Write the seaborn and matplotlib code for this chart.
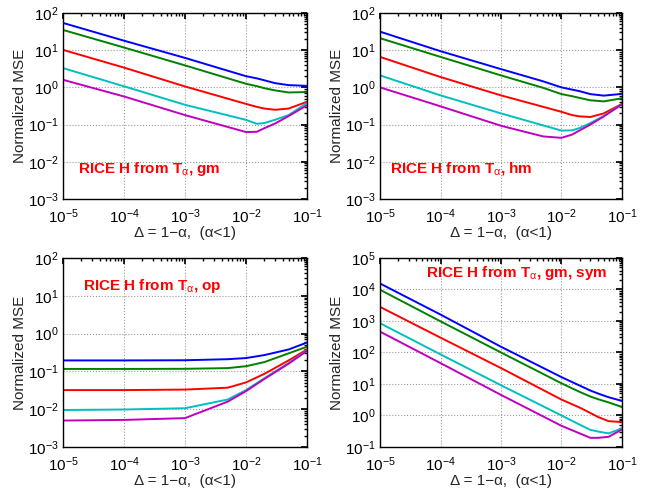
import numpy as np
import pandas as pd
import matplotlib
matplotlib.use("Agg")
import matplotlib.pyplot as plt
import seaborn as sns

# =====================================
# DATA
# =====================================

x_gm = [1e-5, 1e-4, 1e-3, 1e-2, 1.5e-2, 2e-2, 3e-2, 5e-2, 1e-1]
gm_blue = [54, 18, 6.2, 2.0, 1.75, 1.55, 1.3, 1.15, 1.1]
gm_green = [35, 11.8, 3.9, 1.25, 1.08, 0.95, 0.83, 0.73, 0.75]
gm_red = [10.2, 3.4, 1.06, 0.36, 0.30, 0.27, 0.25, 0.27, 0.41]
gm_cyan = [3.3, 1.07, 0.34, 0.134, 0.105, 0.11, 0.135, 0.18, 0.38]
gm_magenta = [1.6, 0.57, 0.18, 0.063, 0.064, 0.08, 0.107, 0.17, 0.33]

x_hm = [1e-5, 1e-4, 1e-3, 5e-3, 1e-2, 1.5e-2, 2e-2, 3e-2, 5e-2, 1e-1]
hm_blue = [31.5, 9.4, 3.1, 1.45, 1.0, 0.87, 0.79, 0.66, 0.6, 0.67]
hm_green = [21, 6.6, 2.1, 0.97, 0.66, 0.58, 0.52, 0.45, 0.42, 0.51]
hm_red = [6.6, 1.9, 0.61, 0.30, 0.22, 0.18, 0.166, 0.16, 0.2, 0.36]
hm_cyan = [2.1, 0.61, 0.2, 0.095, 0.069, 0.07, 0.081, 0.11, 0.17, 0.36]
hm_magenta = [1.0, 0.31, 0.093, 0.048, 0.044, 0.054, 0.07, 0.1, 0.166, 0.35]

x_op = [1e-5, 1e-4, 1e-3, 5e-3, 1e-2, 2e-2, 5e-2, 1e-1]
op_blue = [0.195, 0.195, 0.197, 0.21, 0.225, 0.27, 0.38, 0.58]
op_green = [0.116, 0.116, 0.117, 0.122, 0.137, 0.176, 0.3, 0.45]
op_red = [0.032, 0.032, 0.033, 0.037, 0.051, 0.086, 0.195, 0.38]
op_cyan = [0.0095, 0.0098, 0.0106, 0.018, 0.032, 0.066, 0.166, 0.36]
op_magenta = [0.005, 0.0052, 0.0058, 0.0158, 0.030, 0.063, 0.16, 0.35]

x_sym = [1e-5, 1e-4, 1e-3, 1e-2, 2e-2, 3e-2, 4e-2, 6e-2, 1e-1]
sym_blue = [15500, 1600, 152, 16.5, 8.9, 6.2, 5.0, 3.8, 2.9]
sym_green = [9800, 975, 100, 10.5, 5.6, 4.0, 3.3, 2.6, 1.86]
sym_red = [2800, 296, 32, 3.2, 1.78, 1.2, 0.9, 0.66, 0.62]
sym_cyan = [850, 87, 9.1, 1.0, 0.51, 0.35, 0.31, 0.27, 0.39]
sym_magenta = [460, 46, 4.5, 0.47, 0.27, 0.195, 0.195, 0.21, 0.36]

series_names = ["blue", "green", "red", "cyan", "magenta"]
line_colors = [(0, 0, 1), (0, 0.5, 0), (1, 0, 0), (0, 0.75, 0.75), (0.75, 0, 0.75)]

panels = [
    (x_gm, [gm_blue, gm_green, gm_red, gm_cyan, gm_magenta], "gm", (1e-3, 1e2)),
    (x_hm, [hm_blue, hm_green, hm_red, hm_cyan, hm_magenta], "hm", (1e-3, 1e2)),
    (x_op, [op_blue, op_green, op_red, op_cyan, op_magenta], "op", (1e-3, 1e2)),
    (x_sym, [sym_blue, sym_green, sym_red, sym_cyan, sym_magenta], "gm, sym", (1e-1, 1e5)),
]

label_pos = [(0.06, 0.14), (0.04, 0.14), (0.08, 0.83), (0.19, 0.90)]

axes_rects = [
    [0.0959, 0.5939, 0.3714, 0.3796],
    [0.5784, 0.5939, 0.3683, 0.3796],
    [0.0959, 0.0878, 0.3714, 0.3857],
    [0.5784, 0.0878, 0.3683, 0.3857],
]

# =====================================
# STYLE
# =====================================

sns.set_theme(style="white")
plt.rcParams['font.family'] = ['Liberation Sans', 'DejaVu Sans']
plt.rcParams['mathtext.fontset'] = 'custom'
plt.rcParams['mathtext.rm'] = 'Liberation Sans'
plt.rcParams['mathtext.it'] = 'Liberation Sans'

fig = plt.figure(figsize=(6.57, 4.9), dpi=100)

for i, (xs, ys_list, tag, ylim) in enumerate(panels):
    ax = fig.add_axes(axes_rects[i])

    df = pd.DataFrame({
        "x": np.tile(xs, len(ys_list)),
        "y": np.concatenate(ys_list),
        "series": np.repeat(series_names, len(xs)),
    })

    sns.lineplot(
        data=df, x="x", y="y", hue="series",
        palette=dict(zip(series_names, line_colors)),
        linewidth=1.4, legend=False, ax=ax,
    )

    ax.set_xscale("log")
    ax.set_yscale("log")
    ax.set_xlim(1e-5, 1e-1)
    ax.set_ylim(*ylim)

    ax.grid(True, which="major", linestyle=":", color="#999999", linewidth=0.8)
    ax.tick_params(which="both", direction="in", top=True, right=True,
                   labelsize=11, colors="black")
    ax.tick_params(which="major", length=4)
    ax.tick_params(which="minor", length=2)
    ax.tick_params(axis="x", which="major", pad=6)
    ax.tick_params(axis="y", which="major", pad=3)
    ax.xaxis.set_minor_locator(matplotlib.ticker.LogLocator(base=10, subs=np.arange(2, 10)))
    ax.yaxis.set_minor_locator(matplotlib.ticker.LogLocator(base=10, subs=np.arange(2, 10)))
    ax.xaxis.set_minor_formatter(matplotlib.ticker.NullFormatter())
    ax.yaxis.set_minor_formatter(matplotlib.ticker.NullFormatter())

    for sp in ax.spines.values():
        sp.set_color("black")
        sp.set_linewidth(1.0)

    ax.set_xlabel("Δ = 1−α,  (α<1)", fontsize=11, labelpad=0)
    ax.set_ylabel("Normalized MSE", fontsize=11, labelpad=1)

    lx, ly = label_pos[i]
    ax.text(lx, ly, r"RICE H from T$_{\alpha}$, " + tag,
            transform=ax.transAxes, color="red", fontsize=11,
            fontweight="bold", ha="left", va="baseline")

plt.savefig("out.png", dpi=100)
